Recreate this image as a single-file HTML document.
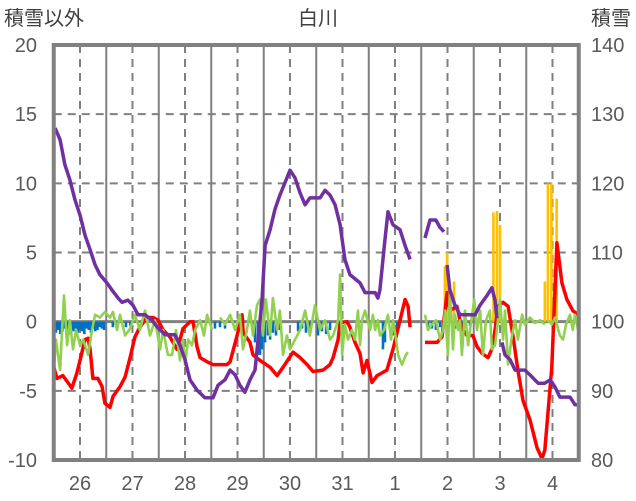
<!DOCTYPE html>
<html><head><meta charset="utf-8"><style>
html,body{margin:0;padding:0;background:#fff;}
svg{display:block;font-family:"Liberation Sans","Noto Sans CJK JP",sans-serif;}
</style></head><body>
<svg id="chart" width="636" height="501" viewBox="0 0 636 501" xmlns="http://www.w3.org/2000/svg">
<text x="318" y="25" text-anchor="middle" font-size="20" fill="#404040">白川</text>
<text x="4" y="25" font-size="20" fill="#404040">積雪以外</text>
<text x="591" y="25" font-size="20" fill="#404040">積雪</text>
<g id="grid"></g>
<g id="bars"></g>
<g id="lines"></g>
<g id="axes"></g>
</svg>
<script>
const dayLabels=["26","27","28","29","30","31","1","2","3","4"];
const leftTicks=[20,15,10,5,0,-5,-10];
const rightTicks=[140,130,120,110,100,90,80];
const redH=[0,1.5,4.2,8.3,10.6,12,14.3,15.7,16.6,17.9,20.2,22.1,23.4,25.7,27.1,30.3,32.6,34.9,37.1,39.4,42.6,45.4,47.7,50,53.1,56.3,57.7,59.1,62.3,63.7,65.5,66.9,70.1,72.8,79.2,80.6,83.8,86.1,86.6,89.7,91.1,94.3,98.9,102.1,104.8,109.4,112.6,115.8,118.5,123.1,126.3,127.7,130,130.9,134.1,135.4,137.7,140,141.4,143.2,145.5,147.8,152.3,155.1,158.3,160.6,162,162.9,null,169.7,175.2,177.5,179.8,181.1,184.3,186.6,188.9,191.6,193.5,195.8,198.5,200.8,203.1,205.4,207.7,210,212.2,214.5,217.7,220.9,223.2,224.5,227.7,230,232.3,234.6,237.3,239.7];
const redV=[-3.3,-4.1,-3.9,-4.8,-3.7,-2.8,-1.3,-1.2,-2.0,-4.1,-4.1,-4.7,-5.9,-6.2,-5.4,-4.7,-4.0,-2.6,-1.1,-0.4,0.3,0.3,0.1,-0.6,-1.1,-2.0,-1.3,-0.5,0,0,-1.8,-2.6,-2.9,-3.1,-3.1,-2.9,-1.0,0.5,-0.8,-1.5,-2.4,-2.8,-3.3,-3.9,-3.3,-2.2,-2.6,-3.1,-3.6,-3.5,-3.1,-2.6,-1.3,-0.1,0,-0.4,-1.5,-2.3,-3.7,-2.8,-4.4,-3.9,-3.5,-2.0,0.1,1.6,1.1,-0.4,null,-1.5,-1.5,-1.1,2.1,0.8,1.1,-0.5,-1.0,-1.0,-1.8,-2.3,-2.6,-1.8,1.1,1.4,1.1,-1.1,-3.5,-5.7,-7.1,-9.1,-9.9,-9.3,-3.3,5.7,2.8,1.6,0.8,0.5];
const purpleH=[0.6,2.9,5.1,7.4,9.7,12,14.3,16.6,18.9,21.1,24.3,26.6,29.4,31.2,33.9,36.2,38.5,41.7,44.9,47.7,50.9,55.4,57.7,60,62.3,65.5,69.1,72.8,75.1,78.3,80.6,82.9,85.1,87.4,89.7,92,93.4,95.2,96.6,98.9,101.1,103.4,105.7,108,110.3,112.6,114.9,117.1,121.7,124,126.3,128.6,130.9,133.1,135.4,140,142.3,146.9,148.2,149.1,151.4,152.8,155.1,158.3,160.6,162.9,null,169.7,172,174.7,176.6,178.4,null,179.8,181.1,183.4,185.7,192.6,194.9,198.1,200.3,201.7,202.6,null,204.9,206.3,208.6,210.9,215.4,217.7,221.4,224.5,226.9,229.1,231.4,236,238.3,240];
const purpleV=[128,126.3,122.7,120.5,117.6,115.4,112.5,110.4,108.2,106.8,105.6,104.6,103.4,102.8,103.1,102.4,101,101,100.2,99.1,98.1,98.1,96.6,94.5,91.6,90.1,89,89,90.8,91.6,93,92.3,90.8,89.8,91.6,93,97.4,103.1,111,113.3,116.2,118.3,120.1,121.9,120.8,118.6,116.9,117.9,117.9,119,118.3,116.9,114,109,106.8,105.6,104.2,104.2,103.4,104.6,111.8,115.9,114,113.3,111,109,null,112.1,114.7,114.7,113.6,113,null,108.2,104.6,102.4,101,101,102.4,103.8,104.9,103.1,100.5,null,97,95.2,94.5,93,93,92.3,91.1,91.1,91.6,90.6,89.1,89.1,88,88];
const greenH=[0,1,2.9,3.8,4.7,6.1,7.4,8.8,10.2,12,13.4,15.7,17.5,18.9,21.1,23.4,25.7,27.1,28.9,30.3,32.6,34.9,37.1,39.4,41.7,44,46.3,48.6,50,52.2,54.1,55.9,57.7,59.1,60,61.4,63.2,64.6,66.9,68.7,70.1,72.4,null,76,78.3,80.6,82.9,85.1,86.5,88.3,89.7,91.1,92.9,94.3,95.6,97,98.9,100.2,102.1,103.4,104.8,106.6,108,110.3,112.6,114.9,117.1,119.4,121.7,124,126.3,127.7,130,130.9,131.8,133.1,134.5,136.3,137.7,139.1,140,140.9,142.3,144.6,145.9,146.9,148.2,149.1,151,152.8,154.2,155.1,156.5,157.4,159.2,161,161.9,null,169.7,171.1,172.9,174.7,176.6,178,178.9,180.2,181.1,182.5,183.4,184.8,185.7,186.6,188,189.4,190.3,192.2,193.5,194.9,196.2,197.6,199.4,200.3,201.7,202.6,204,205.4,206.3,207.7,209.5,210.9,212.2,214.1,215.4,217.7,220,222.3,224.5,null,225.9,227.7,229.1,231.4,232.8,234.2,236,237.3,238.3,239.7];
const greenV=[-3.5,-1.3,-3.5,-0.6,1.9,-1.7,0.1,-2.0,-0.6,-1.7,-1.3,-2.4,-0.6,0.5,0.3,0.7,0.3,0.7,-0.6,0.5,-1.0,-0.5,0.5,-0.6,0.8,-1.0,0.1,-2.0,-0.6,-2.4,-2.4,-0.6,-2.8,-1.3,-3.1,-1.3,-1.7,-0.6,0.1,-1.0,0.5,-0.6,null,0.3,-0.2,0.5,-0.6,0.5,-2.0,-0.6,0.8,-1.0,1.2,1.6,-1.0,1.6,-1.0,1.7,-0.6,0.8,-2.4,-1.0,-2.0,-1.3,-0.6,0.8,-1.0,1.2,-0.6,0.1,-1.3,-1.0,0.1,3.4,-2.4,-0.2,-1.3,-0.6,-1.3,0.8,-1.7,0.1,0.8,-0.6,0.5,-0.6,0.1,-1.0,-0.6,0.5,-1.3,0.1,-1.3,-2.4,-3.1,-2.4,-2.2,null,0.5,-0.6,-0.2,0.1,-1.3,-0.6,0.8,-2.4,2.3,-2.0,0.5,-0.6,0.1,-2.4,0.8,-1.7,-0.6,1.6,-0.6,0.8,-2.4,0.1,0.8,-2.0,-1.7,-0.6,1.6,-1.3,0.8,-3.1,-1.0,0.1,-1.3,0.5,-0.2,0.3,-0.1,0.1,-0.2,null,0.1,-0.2,0.3,-1.0,-1.3,-0.2,0.5,-0.6,0.5,-0.6];
const blueH=[1,2,3,4,5,6,7,8,9,10,11,12,13,14,15,16,17,18,19,20,21,22,23,27,29,33,35,73.7,76,78.3,84.1,91.1,92,93.4,94.3,95.2,96.6,98,98.9,100.2,101.6,103.4,111.7,113.5,115.3,117.1,120.8,122.6,124.5,126.3,150.5,151.4,155.1,156.9,171.1,172.9,174.7,176.6,183.4,186.6,190.3];
const blueV=[-0.8,-0.6,-0.9,-0.7,-0.5,-0.8,-0.9,-0.6,-0.7,-0.5,-0.8,-0.6,-0.7,-0.9,-0.5,-0.6,-0.8,-0.5,-0.7,-0.6,-0.4,-0.5,-0.6,-0.4,-0.3,-0.4,-0.3,-0.5,-0.4,-0.5,-0.4,-0.8,-1.5,-2.4,-2.4,-2.0,-1.5,-1.0,-1.3,-0.8,-1.0,-0.6,-0.7,-0.5,-0.8,-0.6,-1.0,-0.7,-0.9,-0.6,-2.0,-1.5,-1.0,-0.8,-0.6,-0.5,-0.6,-0.4,-0.5,-0.4,-0.3];
const yellowH=[178.8,179.8,183,201,202.6,204,224.5,225.9,227.5,229.9];
const yellowV=[4,5,2.9,7.9,8,7,2.9,10,10,8.9];

const L=53.75,R=578.75,T=45,B=460;
function x(h){return L+(h/240)*(R-L);}
function yL(v){return B-(v+10)/30*(B-T);}
function yR(v){return B-(v-80)/60*(B-T);}
const NS="http://www.w3.org/2000/svg";
function mk(tag,attrs,parent){const e=document.createElementNS(NS,tag);for(const k in attrs)e.setAttribute(k,attrs[k]);parent.appendChild(e);return e;}
const grid=document.getElementById('grid'),bars=document.getElementById('bars'),lines=document.getElementById('lines'),axes=document.getElementById('axes');
// horizontal grid
leftTicks.forEach(v=>{
  if(v===20||v===-10||v===0)return;
  const l=mk('line',{x1:L,x2:R,y1:yL(v),y2:yL(v),stroke:'#808080','stroke-width':2,'stroke-dasharray':'8,6'},grid);
  
  
});
for(let d=1;d<10;d++){
  const l=mk('line',{x1:x(d*24),x2:x(d*24),y1:T,y2:B,stroke:'#808080','stroke-width':2},grid);
  
  
}
dayLabels.forEach((lab,i)=>{
  const l=mk('line',{x1:x(i*24+12),x2:x(i*24+12),y1:T,y2:B,stroke:'#808080','stroke-width':2,'stroke-dasharray':'8,6'},grid);
  
  
  const t=mk('text',{x:x(i*24+12),y:490,'text-anchor':'middle','font-size':20,fill:'#595959'},axes);
  t.textContent=lab;
  
  
});
// bars
blueH.forEach((h,i)=>{
  const y0=yL(0),y1=yL(blueV[i]);
  const r=mk('rect',{x:x(h)-1.3,y:Math.min(y0,y1),width:2.6,height:Math.abs(y1-y0),fill:'#0070c0'},bars);
  
  
});
yellowH.forEach((h,i)=>{
  const y0=yL(0),y1=yL(yellowV[i]);
  const r=mk('rect',{x:x(h)-1.3,y:Math.min(y0,y1),width:2.6,height:Math.abs(y1-y0),fill:'#ffc000'},bars);
  
  
});
// zero line
const z=mk('line',{x1:L,x2:R,y1:yL(0),y2:yL(0),stroke:'#808080','stroke-width':3},grid);


function pathD(H,V,yf){let d='',pen=false;H.forEach((h,i)=>{if(h===null||V[i]===null){pen=false;return;}d+=(pen?'L':'M')+x(h).toFixed(1)+','+yf(V[i]).toFixed(1);pen=true;});return d;}
const pr=mk('path',{d:pathD(redH,redV,yL),fill:'none',stroke:'#ff0000','stroke-width':3.5,'stroke-linejoin':'round'},lines);


const pg=mk('path',{d:pathD(greenH,greenV,yL),fill:'none',stroke:'#92d050','stroke-width':2.6,'stroke-linejoin':'round'},lines);


const pp=mk('path',{d:pathD(purpleH,purpleV,yR),fill:'none',stroke:'#7030a0','stroke-width':3.5,'stroke-linejoin':'round'},lines);


// frame
const f=mk('rect',{x:L,y:T,width:R-L,height:B-T,fill:'none',stroke:'#808080','stroke-width':4},axes);


leftTicks.forEach(v=>{
  const t=mk('text',{x:37,y:yL(v)+7,'text-anchor':'end','font-size':20,fill:'#595959'},axes);
  t.textContent=v;
  
  
});
rightTicks.forEach(v=>{
  const t=mk('text',{x:591,y:yR(v)+7,'text-anchor':'start','font-size':20,fill:'#595959'},axes);
  t.textContent=v;
  
  
});
</script>
</body></html>
